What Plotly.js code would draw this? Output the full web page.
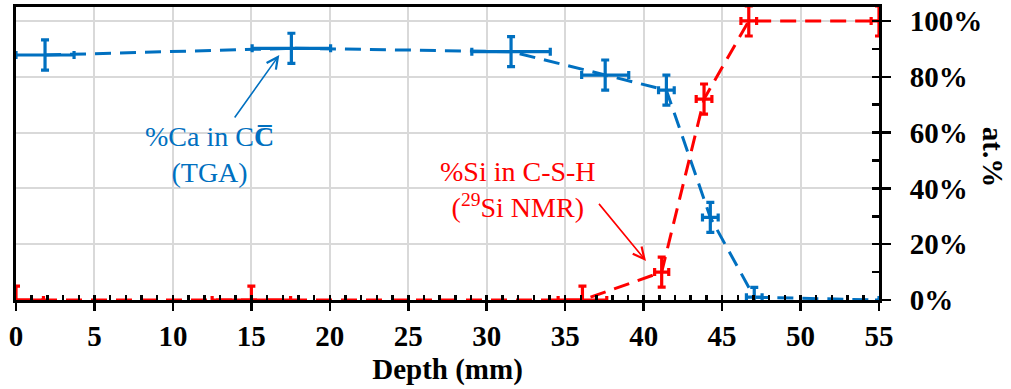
<!DOCTYPE html>
<html>
<head>
<meta charset="utf-8">
<script src="https://cdn.plot.ly/plotly-3.0.1.min.js"></script>
<style>html,body{margin:0;padding:0;background:#fff;}#chart{width:1011px;height:389px;}</style>
</head>
<body>
<div id="chart"></div>
<script>
// %Ca in CC (TGA) - blue series
const depthCa = [1.85, 17.55, 31.55, 37.55, 41.45, 44.25, 47.05, 55];
const pctCa   = [87.8, 90.2, 89.0, 80.6, 75.2, 29.6, 1.0, 0];
const errXCa  = [1.85, 2.5, 2.5, 1.5, 0.5, 0.5, 0.5, 0];
const errYCa  = [5.4, 5.4, 5.4, 5.4, 5.4, 5.4, 3.5, 0];

// %Si in C-S-H (29Si NMR) - red series
const depthSi = [0, 15, 36.1, 41.15, 43.85, 46.7, 55];
const pctSi   = [0, 0, 0, 10, 72, 100, 100];
const errXSi  = [1.75, 2.5, 1.55, 0.45, 0.5, 0.5, 0.5];
const errYSi  = [5, 5, 5, 5.4, 5.4, 5.4, 5.4];

const xTickVals = [0, 5, 10, 15, 20, 25, 30, 35, 40, 45, 50, 55];
const yTickVals = [0, 20, 40, 60, 80, 100];
const yTickText = ['0%', '20%', '40%', '60%', '80%', '100%'];

const BLUE = '#0070C0';
const RED = '#FF0000';
const serif = 'Liberation Serif, Times New Roman, serif';

function seriesTrace(x, y, ex, ey, color) {
  return {
    x: x, y: y, type: 'scatter', mode: 'lines',
    line: {color: color, width: 3, dash: '16px,9px'},
    error_x: {type: 'data', array: ex, visible: true, color: color, thickness: 3.2, width: 4},
    error_y: {type: 'data', array: ey, visible: true, color: color, thickness: 3.2, width: 4},
    hoverinfo: 'skip', showlegend: false, cliponaxis: true
  };
}

const traces = [
  seriesTrace(depthCa, pctCa, errXCa, errYCa, BLUE),
  seriesTrace(depthSi, pctSi, errXSi, errYSi, RED),
  {x: [null], y: [null], xaxis: 'x2', yaxis: 'y2', type: 'scatter', mode: 'lines', showlegend: false, hoverinfo: 'skip'}
];

const tickFont = {family: serif, size: 29, color: '#000', weight: 700};

const layout = {
  width: 1011, height: 389,
  margin: {l: 16, r: 132, t: 7, b: 89},
  paper_bgcolor: '#fff', plot_bgcolor: '#fff',
  showlegend: false,
  xaxis: {
    range: [0, 55], tickvals: xTickVals, ticktext: xTickVals.map(String),
    showgrid: true, gridcolor: '#d9d9d9', gridwidth: 2,
    showline: true, linecolor: '#000', linewidth: 3, mirror: true,
    ticks: 'outside', ticklen: 8, tickwidth: 2.5, tickcolor: '#000',
    tickfont: tickFont, ticklabelstandoff: 0,
    zeroline: false, automargin: false,
    title: {text: 'Depth (mm)', font: tickFont, standoff: 8}
  },
  yaxis: {
    side: 'right', range: [0, 105], tickvals: yTickVals, ticktext: yTickText,
    showgrid: true, gridcolor: '#d9d9d9', gridwidth: 2,
    showline: true, linecolor: '#000', linewidth: 3, mirror: true,
    ticks: 'outside', ticklen: 9, tickwidth: 2.5, tickcolor: '#000',
    tickfont: tickFont, ticklabelstandoff: 13,
    zeroline: false, automargin: false
  },
  xaxis2: {
    overlaying: 'x', anchor: 'y2', range: [0, 55], dtick: 1, tick0: 0,
    ticks: 'inside', ticklen: 5, tickwidth: 2.5, tickcolor: '#000',
    showticklabels: false, showgrid: false, showline: false, zeroline: false
  },
  yaxis2: {
    overlaying: 'y', anchor: 'x2', side: 'right', range: [0, 105], dtick: 10, tick0: 0,
    ticks: 'inside', ticklen: 7, tickwidth: 2.5, tickcolor: '#000',
    showticklabels: false, showgrid: false, showline: false, zeroline: false
  },
  annotations: [
    {xref: 'paper', yref: 'paper', x: 1.132, y: 0.489, xanchor: 'center', yanchor: 'middle',
     text: 'at.%', textangle: 90,
     showarrow: false, font: {family: serif, size: 29, color: '#000', weight: 700}},
    {xref: 'x', yref: 'y', x: 12.3, y: 52.1, text: '%Ca in C<b>C\u0305</b><br>(TGA)', showarrow: false,
     font: {family: serif, size: 28, color: BLUE}, align: 'center'},
    {xref: 'x', yref: 'y', x: 16.78, y: 87.8, ax: -47.6, ay: 66.7, text: ' ', showarrow: true,
     arrowhead: 5, arrowsize: 1.4, arrowwidth: 1.6, arrowcolor: BLUE, standoff: 0},
    {xref: 'x', yref: 'y', x: 32.0, y: 39.5, text: '%Si in C-S-H<br>(<sup>29</sup>Si NMR)', showarrow: false,
     font: {family: serif, size: 28, color: RED}, align: 'center'},
    {xref: 'x', yref: 'y', x: 40.15, y: 14.0, ax: -50, ay: -60.7, text: ' ', showarrow: true,
     arrowhead: 5, arrowsize: 1.4, arrowwidth: 1.6, arrowcolor: RED, standoff: 0}
  ]
};

Plotly.newPlot('chart', traces, layout, {displayModeBar: false, staticPlot: true});
</script>
</body>
</html>
